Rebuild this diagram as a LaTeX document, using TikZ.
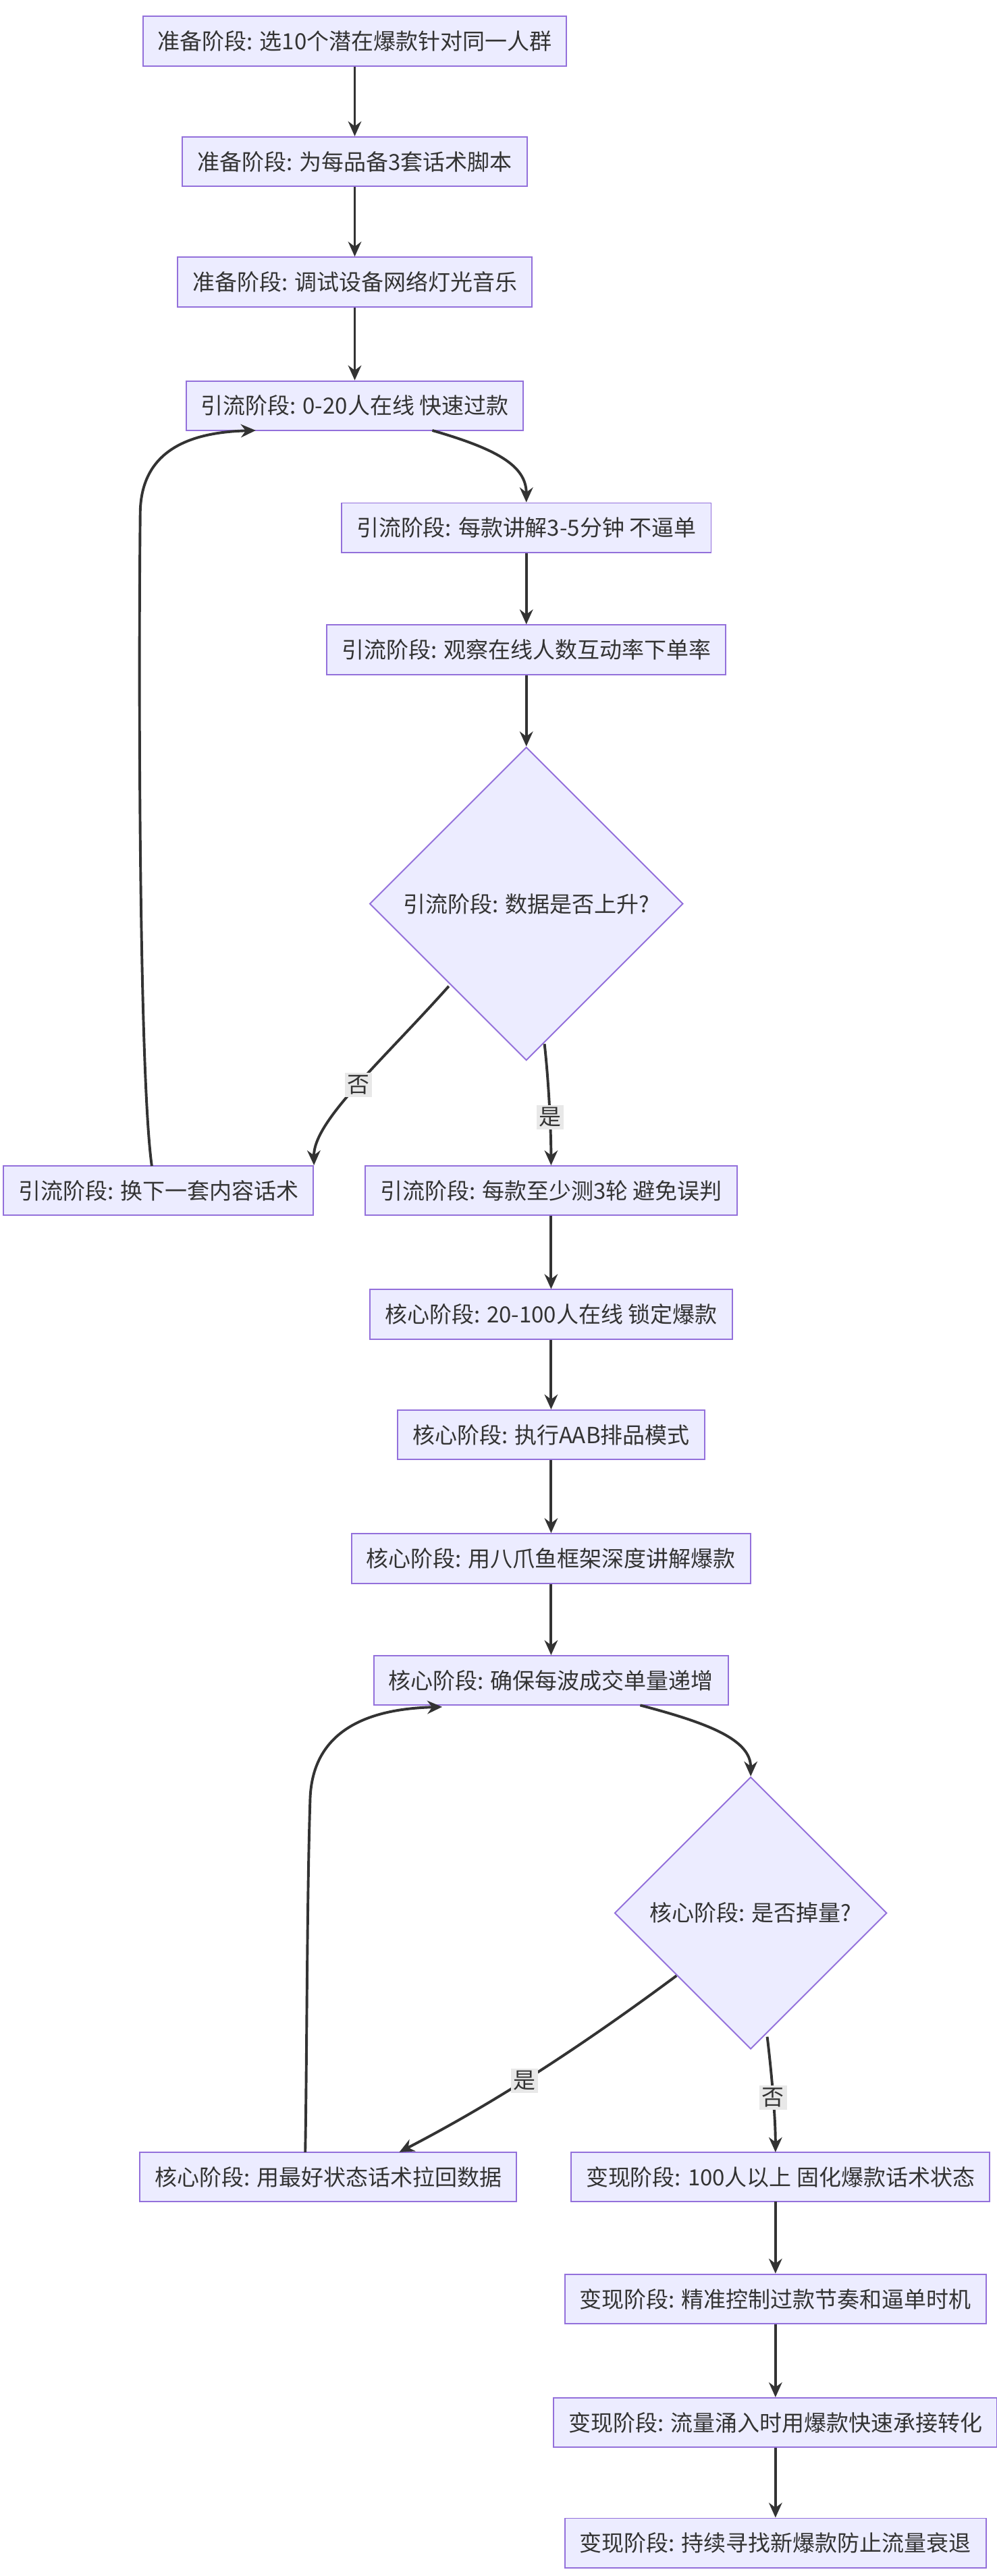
\documentclass[tikz,border=0pt]{standalone}
\usepackage{fontspec}
\setmainfont{Noto Sans CJK SC}
\usetikzlibrary{shapes.geometric,arrows.meta}
\begin{document}
\begin{tikzpicture}[x=1pt,y=1pt,
  bx/.style={draw=mmborder,fill=mmfill,line width=0.8pt,minimum height=30pt,inner xsep=9pt,font=\fontsize{13.5}{16}\selectfont,text=mmtext},
  dm/.style={draw=mmborder,fill=mmfill,line width=0.8pt,diamond,aspect=1,inner sep=0pt,font=\fontsize{13.5}{16}\selectfont,text=mmtext},
  ar/.style={draw=mmline,line width=1.6pt,-{Stealth[length=9pt,width=8pt]}},
  lb/.style={fill=mmlab,font=\fontsize{13.5}{16}\selectfont,text=mmtext,inner sep=1.5pt}]
\definecolor{mmfill}{HTML}{ECECFF}
\definecolor{mmborder}{HTML}{9370DB}
\definecolor{mmline}{HTML}{333333}
\definecolor{mmtext}{HTML}{333333}
\definecolor{mmlab}{HTML}{E8E8E8}
\useasboundingbox[fill=white] (0,0) rectangle (604,-1562);
\node[bx,minimum width=244] (n1) at (215,-25) {准备阶段: 选10个潜在爆款针对同一人群};
\node[bx,minimum width=198] (n2) at (215,-98) {准备阶段: 为每品备3套话术脚本};
\node[bx,minimum width=206] (n3) at (215,-171) {准备阶段: 调试设备网络灯光音乐};
\node[bx,minimum width=195] (n4) at (215,-246) {引流阶段: 0-20人在线 快速过款};
\node[bx,minimum width=216] (n5) at (319,-320) {引流阶段: 每款讲解3-5分钟 不逼单};
\node[bx,minimum width=234] (n6) at (319,-394) {引流阶段: 观察在线人数互动率下单率};
\node[dm,minimum width=190,minimum height=190] (n7) at (319,-548) {引流阶段: 数据是否上升?};
\node[bx,minimum width=179] (n8) at (96,-722) {引流阶段: 换下一套内容话术};
\node[bx,minimum width=216] (n9) at (334,-722) {引流阶段: 每款至少测3轮 避免误判};
\node[bx,minimum width=208] (n10) at (334,-797) {核心阶段: 20-100人在线 锁定爆款};
\node[bx,minimum width=175] (n11) at (334,-870) {核心阶段: 执行AAB排品模式};
\node[bx,minimum width=230] (n12) at (334,-945) {核心阶段: 用八爪鱼框架深度讲解爆款};
\node[bx,minimum width=206] (n13) at (334,-1019) {核心阶段: 确保每波成交单量递增};
\node[dm,minimum width=165,minimum height=165] (n14) at (455,-1160) {核心阶段: 是否掉量?};
\node[bx,minimum width=216] (n15) at (199,-1320) {核心阶段: 用最好状态话术拉回数据};
\node[bx,minimum width=250] (n16) at (473,-1320) {变现阶段: 100人以上 固化爆款话术状态};
\node[bx,minimum width=244] (n17) at (470,-1394) {变现阶段: 精准控制过款节奏和逼单时机};
\node[bx,minimum width=259] (n18) at (470,-1469) {变现阶段: 流量涌入时用爆款快速承接转化};
\node[bx,minimum width=247] (n19) at (470,-1542) {变现阶段: 持续寻找新爆款防止流量衰退};
\draw[ar] (n1) -- (n2);
\draw[ar] (n2) -- (n3);
\draw[ar] (n3) -- (n4);
\draw[ar] (262,-261) .. controls (300,-272) and (319,-282) .. (n5.north);
\draw[ar] (n5) -- (n6);
\draw[ar] (n6) -- (n7.north);
\draw[ar] (272,-598) .. controls (230,-645) and (190,-680) .. (n8.north east) node[pos=0.48,lb] {否};
\draw[ar] (330,-633) .. controls (333,-660) and (334,-690) .. (n9.north) node[pos=0.55,lb] {是};
\draw[ar] (92,-707) .. controls (84,-650) and (84,-400) .. (85,-310) .. controls (86,-270) and (120,-262) .. (155,-261);
\draw[ar] (n9) -- (n10);
\draw[ar] (n10) -- (n11);
\draw[ar] (n11) -- (n12);
\draw[ar] (n12) -- (n13);
\draw[ar] (388,-1034) .. controls (430,-1045) and (455,-1055) .. (n14.north);
\draw[ar] (410,-1198) .. controls (340,-1250) and (290,-1280) .. (242,-1305) node[pos=0.5,lb] {是};
\draw[ar] (465,-1235) .. controls (468,-1260) and (470,-1285) .. (470,-1305) node[pos=0.5,lb] {否};
\draw[ar] (185,-1305) .. controls (186,-1250) and (186,-1150) .. (188,-1090) .. controls (190,-1045) and (230,-1036) .. (268,-1035);
\draw[ar] (470,-1335) -- (n17);
\draw[ar] (n17) -- (n18);
\draw[ar] (n18) -- (n19);
\end{tikzpicture}
\end{document}
